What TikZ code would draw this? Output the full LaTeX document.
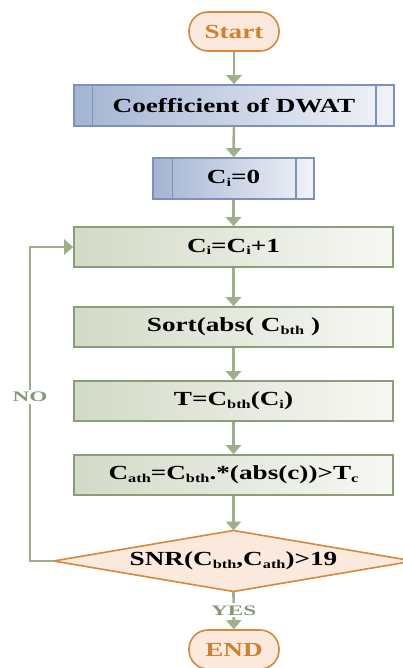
\documentclass[tikz,border=0pt]{standalone}
\usepackage{fontspec}
\setmainfont{Liberation Serif}
\usepackage{graphicx}
\usetikzlibrary{arrows.meta}

\definecolor{peach}{HTML}{FCE9DD}
\definecolor{orangeedge}{HTML}{D4893A}
\definecolor{orangetext}{HTML}{CC8233}
\definecolor{blueedge}{HTML}{7C93B7}
\definecolor{blueL}{HTML}{A3B5D3}
\definecolor{blueR}{HTML}{F1F3F8}
\definecolor{greenedge}{HTML}{8C9D79}
\definecolor{greenL}{HTML}{D3DAC7}
\definecolor{greenR}{HTML}{F7F8F3}
\definecolor{linkc}{HTML}{9DB08A}
\definecolor{labelc}{HTML}{86977A}

% wide bold lettering and lowered small subscripts
\newcommand\widetxt[1]{\scalebox{1.36}[1]{#1}}
\newcommand\tagtxt[1]{\scalebox{1.6}[1]{#1}}
\newcommand\lo[1]{\raisebox{-0.3ex}{\scalebox{0.6}{#1}}}

\begin{document}
\begin{tikzpicture}[x=1pt,y=-1pt,
  txt/.style={font=\bfseries\fontsize{20}{24}\selectfont, inner sep=0pt},
  term/.style={txt, draw=orangeedge, line width=1.6pt, fill=peach,
    rounded corners=19pt, minimum width=90pt, minimum height=39pt, text=orangetext},
  procbox/.style={txt, draw=blueedge, line width=1.6pt, left color=blueL,
    right color=blueR, minimum height=41pt},
  flowbox/.style={txt, draw=greenedge, line width=1.6pt, left color=greenL,
    right color=greenR, minimum width=319pt, minimum height=40pt},
  link/.style={draw=linkc, line width=2.6pt, -{Triangle[width=15pt,length=9pt]}},
  tag/.style={font=\bfseries\fontsize{14.5}{16}\selectfont, text=labelc, fill=white,
    inner xsep=1pt, inner ysep=2pt}
]
\useasboundingbox (0,0) rectangle (403,668);
\clip (0,0) rectangle (403,668);

% terminals
\node[term] (start) at (234,31.5) {\widetxt{Start}};
\node[term] (stop) at (234,649.5) {\widetxt{END}};

% predefined processes
\node[procbox, minimum width=320pt] (coef) at (234,105.5) {\widetxt{Coefficient of DWAT}};
\draw[blueedge, line width=1.4pt] ([xshift=19pt]coef.north west) -- ([xshift=19pt]coef.south west);
\draw[blueedge, line width=1.4pt] ([xshift=-19pt]coef.north east) -- ([xshift=-19pt]coef.south east);

\node[procbox, minimum width=161pt] (init) at (233.5,178.5) {\widetxt{C\lo{i}=0}};
\draw[blueedge, line width=1.4pt] ([xshift=20pt]init.north west) -- ([xshift=20pt]init.south west);
\draw[blueedge, line width=1.4pt] ([xshift=-19pt]init.north east) -- ([xshift=-19pt]init.south east);

% processing steps
\node[flowbox] (inc) at (233.5,247) {\widetxt{C\lo{i}=C\lo{i}+1}};
\node[flowbox] (sort) at (233.5,327) {\widetxt{Sort(abs( C\lo{bth} )}};
\node[flowbox] (thr) at (233.5,401) {\widetxt{T=C\lo{bth}(C\lo{i})}};
\node[flowbox] (sel) at (233.5,475) {\widetxt{C\lo{ath}=C\lo{bth}.*(abs(c))>T\lo{c}}};

% decision: a flat diamond drawn from its four corners
\coordinate (snrT) at (233.5,530.5);
\coordinate (snrB) at (233.5,591.5);
\coordinate (snrL) at (53.5,561);
\coordinate (snrR) at (413.5,561);
\draw[orangeedge, line width=1.6pt, fill=peach] (snrL) -- (snrT) -- (snrR) -- (snrB) -- cycle;
\node[txt] (snr) at (233.5,561) {\widetxt{SNR(C\lo{bth},C\lo{ath})>19}};

% connectors
\draw[link] (start) -- (coef);
\draw[link] (coef) -- (init);
\draw[link] (init) -- (inc);
\draw[link] (inc) -- (sort);
\draw[link] (sort) -- (thr);
\draw[link] (thr) -- (sel);
\draw[link] (sel) -- (snrT);
\draw[link] (snrB) -- node[tag, pos=0.5] {\tagtxt{YES}} (stop);
\coordinate (back) at (30,0);
\draw[link] (snrL) -| (back |- inc.west) -- (inc.west);
\node[tag] (no) at (30,397) {\tagtxt{NO}};
\end{tikzpicture}
\end{document}
